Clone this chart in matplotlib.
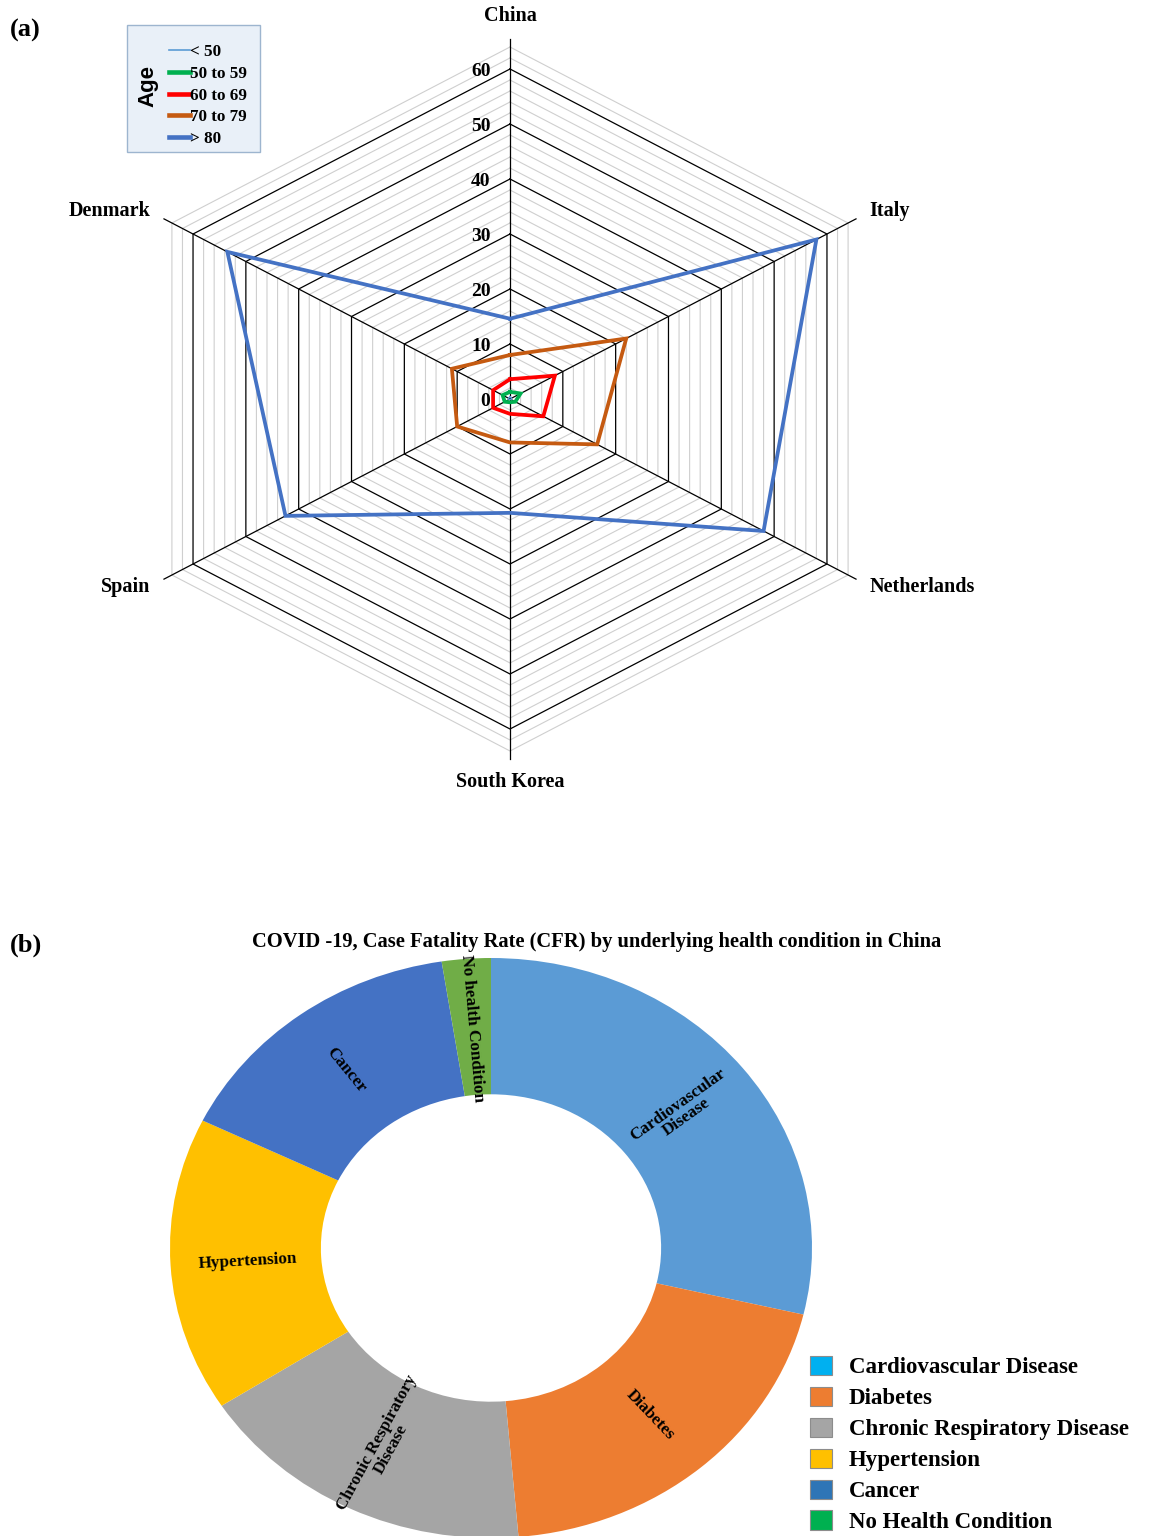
import numpy as np
import matplotlib
matplotlib.use("Agg")
import matplotlib.pyplot as plt
from matplotlib.patches import Patch, Rectangle
from matplotlib.lines import Line2D

# ---- data: (a) CFR (%) by age group and country ----
countries = ["China", "Italy", "Netherlands", "South Korea", "Spain", "Denmark"]
age_groups = ["< 50", "50 to 59", "60 to 69", "70 to 79", "> 80"]
cfr_under50 = [0.4, 0.3, 0.2, 0.1, 0.2, 0.3]
cfr_50_59 = [1.3, 2.0, 1.0, 0.6, 1.0, 1.4]
cfr_60_69 = [3.6, 8.5, 6.3, 2.7, 3.2, 3.2]
cfr_70_79 = [8.0, 22.0, 16.5, 7.9, 10.0, 11.0]
cfr_over80 = [14.6, 58.0, 48.0, 20.7, 42.5, 53.5]
radar_ticks = [0, 10, 20, 30, 40, 50, 60]

# ---- data: (b) CFR (%) by underlying health condition in China ----
conditions = ["Cardiovascular Disease", "Diabetes", "Chronic Respiratory Disease",
              "Hypertension", "Cancer", "No Health Condition"]
condition_cfr = [10.5, 7.3, 6.3, 6.0, 5.6, 0.9]
slice_labels = ["Cardiovascular\nDisease", "Diabetes", "Chronic Respiratory\nDisease",
                "Hypertension", "Cancer", "No health Condition"]

serif = "Liberation Serif"
W, H = 1150, 1536
fig = plt.figure(figsize=(W / 100, H / 100), dpi=100)

def fx(px):
    return px / W

def fy(py):
    return 1 - py / H

# ================= (a) radar =================
ax = fig.add_axes([fx(83), fy(784), 854 / W, 770 / H])
ax.set_xlim(-70, 70)
ax.set_ylim(-70, 70)
ax.axis("off")

angles = np.deg2rad(90 - 60 * np.arange(len(countries)))
ang_closed = np.append(angles, angles[0])

# gridlines
for r in range(2, 65, 2):
    major = r % 10 == 0
    ax.plot(r * np.cos(ang_closed), r * np.sin(ang_closed),
            color="black" if major else "#cfcfcf",
            lw=0.9 if major else 0.8, zorder=2 if major else 1)
for a in angles:
    ax.plot([0, 65.5 * np.cos(a)], [0, 65.5 * np.sin(a)], color="black", lw=0.9, zorder=2)

for t in radar_ticks:
    ax.text(-3.2, t - 0.4, str(t), ha="right", va="center", fontsize=14,
            fontweight="bold", family=serif, zorder=5)

for name, a in zip(countries, angles):
    c, s = np.cos(a), np.sin(a)
    if abs(c) < 0.1:
        ax.text(0, 69.7 * np.sign(s), name, ha="center", va="center", fontsize=14.5,
                fontweight="bold", family=serif)
    else:
        ax.text(68 * c, 68.5 * s, name, ha="left" if c > 0 else "right", va="center",
                fontsize=14.5, fontweight="bold", family=serif)

series = [cfr_under50, cfr_50_59, cfr_60_69, cfr_70_79, cfr_over80]
colors = ["#5B9BD5", "#00B050", "#FF0000", "#C55A11", "#4472C4"]
widths = [1.0, 2.7, 2.7, 2.7, 2.7]
handles = []
for vals, col, lw, lab in zip(series, colors, widths, age_groups):
    v = np.append(vals, vals[0])
    ax.plot(v * np.cos(ang_closed), v * np.sin(ang_closed), color=col, lw=lw,
            zorder=4, solid_joinstyle="miter")
    handles.append(Line2D([], [], color=col, lw=lw + 0.6 if lw > 1 else 1.2, label=lab))

# age legend box
fig.patches.append(Rectangle((fx(127), fy(152)), 133 / W, 127 / H, transform=fig.transFigure,
                             facecolor="#E9F0F8", edgecolor="#9DB5CF", lw=1, zorder=0))
fig.text(fx(148), fy(86), "Age", rotation=90, ha="center", va="center", fontsize=16,
         fontweight="bold", family="Liberation Sans")
fig.legend(handles=handles, loc="upper left", bbox_to_anchor=(fx(169), fy(44)),
           frameon=False, borderpad=0, borderaxespad=0, handlelength=1.2,
           handletextpad=0.05, labelspacing=0.34,
           prop={"family": serif, "weight": "bold", "size": 12.3})

fig.text(fx(10), fy(30), "(a)", ha="left", va="center", fontsize=19,
         fontweight="bold", family=serif)

# ================= (b) donut =================
rx, ry = 321, 290
cx, cy = 491, 1248
ax2 = fig.add_axes([fx(cx - rx), fy(cy + ry), 2 * rx / W, 2 * ry / H])
wedge_colors = ["#5B9BD5", "#ED7D31", "#A5A5A5", "#FFC000", "#4472C4", "#70AD47"]
wedges, _ = ax2.pie(condition_cfr, colors=wedge_colors, startangle=90, counterclock=False,
                    radius=1, wedgeprops=dict(width=0.47, linewidth=0))
ax2.set_aspect("auto")
ax2.set_xlim(-1, 1)
ax2.set_ylim(-1, 1)
ax2.axis("off")

for w, lab in zip(wedges, slice_labels):
    mid = np.deg2rad((w.theta1 + w.theta2) / 2)
    x, y = 0.76 * np.cos(mid), 0.76 * np.sin(mid)
    rot = np.rad2deg(np.arctan2(np.sin(mid) * ry, np.cos(mid) * rx))
    if rot > 90:
        rot -= 180
    elif rot < -90:
        rot += 180
    ax2.text(x, y, lab, ha="center", va="center", rotation=rot, rotation_mode="anchor",
             fontsize=12.3, fontweight="bold", family=serif, linespacing=0.95)

fig.text(fx(597), fy(942), "COVID -19, Case Fatality Rate (CFR) by underlying health condition in China",
         ha="center", va="center", fontsize=14.8, fontweight="bold", family=serif)
fig.text(fx(10), fy(945), "(b)", ha="left", va="center", fontsize=19,
         fontweight="bold", family=serif)

legend_colors = ["#00B0F0", "#ED7D31", "#A5A5A5", "#FFC000", "#2E75B6", "#00B050"]
patches = [Patch(facecolor=c, edgecolor="#8c8c8c", lw=0.8, label=l)
           for c, l in zip(legend_colors, conditions)]
fig.legend(handles=patches, loc="upper left", bbox_to_anchor=(fx(810), fy(1356)),
           frameon=False, borderpad=0, borderaxespad=0, handlelength=0.95,
           handleheight=0.9, handletextpad=0.75, labelspacing=0.37,
           prop={"family": serif, "weight": "bold", "size": 16.5})

fig.savefig("out.png", dpi=100)
